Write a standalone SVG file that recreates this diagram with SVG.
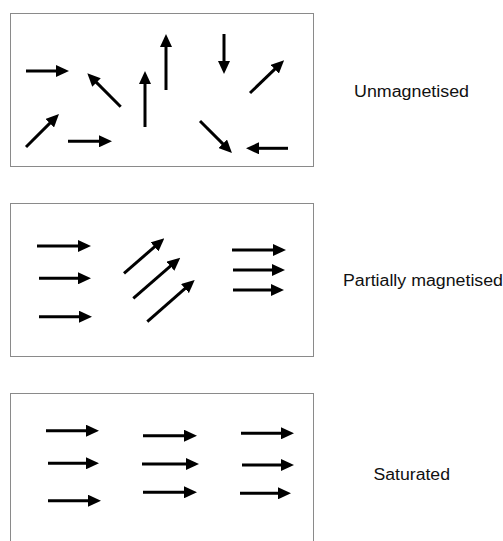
<svg xmlns="http://www.w3.org/2000/svg" width="503" height="541" viewBox="0 0 503 541">
<defs>
<marker id="ah" markerUnits="userSpaceOnUse" markerWidth="13" markerHeight="12" refX="3" refY="6" orient="auto">
<path d="M0,0 L13,6 L0,12 z" fill="#000"/>
</marker>
<style>
.panel{fill:#fff;stroke:#8a8a8a;stroke-width:1}
.a{stroke:#000;stroke-width:3;fill:none;marker-end:url(#ah)}
.lbl{font-family:"Liberation Sans",Arial,sans-serif;font-size:16px;fill:#111}
</style>
</defs>
<rect width="503" height="541" fill="#fff"/>
<g id="unmagnetised">
<rect class="panel" x="10.5" y="13.5" width="303" height="153"/>
<g id="arrows-unmagnetised">
<line class="a" x1="26" y1="71" x2="59" y2="71"/>
<line class="a" x1="120.7" y1="106.7" x2="94.4" y2="80.4"/>
<line class="a" x1="145" y1="127" x2="145" y2="81"/>
<line class="a" x1="166" y1="90" x2="166" y2="44"/>
<line class="a" x1="224" y1="34" x2="224" y2="64"/>
<line class="a" x1="250" y1="93" x2="276.9" y2="67.1"/>
<line class="a" x1="26" y1="147" x2="51.9" y2="121.1"/>
<line class="a" x1="68" y1="141.3" x2="102" y2="141.3"/>
<line class="a" x1="200" y1="121" x2="224.9" y2="145.9"/>
<line class="a" x1="288" y1="148.3" x2="256" y2="148.3"/>
</g>
<text class="lbl" x="354" y="96.5" textLength="115" lengthAdjust="spacingAndGlyphs">Unmagnetised</text>
</g>
<g id="partially-magnetised">
<rect class="panel" x="10.5" y="203.5" width="303" height="153"/>
<g id="arrows-partial">
<line class="a" x1="37" y1="246" x2="81" y2="246"/>
<line class="a" x1="39" y1="278.3" x2="81" y2="278.3"/>
<line class="a" x1="39" y1="316.7" x2="82" y2="316.7"/>
<line class="a" x1="124" y1="273.3" x2="156.8" y2="244.9"/>
<line class="a" x1="133.3" y1="298.3" x2="172.7" y2="264.2"/>
<line class="a" x1="147.3" y1="321.7" x2="187.2" y2="286.6"/>
<line class="a" x1="232" y1="250" x2="276" y2="250"/>
<line class="a" x1="233" y1="270" x2="275" y2="270"/>
<line class="a" x1="233" y1="290" x2="274" y2="290"/>
</g>
<text class="lbl" x="343" y="285.5" textLength="160" lengthAdjust="spacingAndGlyphs">Partially magnetised</text>
</g>
<g id="saturated">
<rect class="panel" x="10.5" y="393.5" width="303" height="170"/>
<g id="arrows-saturated">
<line class="a" x1="46" y1="430.7" x2="89" y2="430.7"/>
<line class="a" x1="48" y1="463.3" x2="89" y2="463.3"/>
<line class="a" x1="48" y1="500.7" x2="91" y2="500.7"/>
<line class="a" x1="143" y1="435.7" x2="187" y2="435.7"/>
<line class="a" x1="142" y1="464" x2="189" y2="464"/>
<line class="a" x1="143" y1="492.3" x2="187" y2="492.3"/>
<line class="a" x1="241" y1="433.3" x2="284" y2="433.3"/>
<line class="a" x1="242" y1="465" x2="284" y2="465"/>
<line class="a" x1="240" y1="493.3" x2="281" y2="493.3"/>
</g>
<text class="lbl" x="373.5" y="479.5" textLength="76.5" lengthAdjust="spacingAndGlyphs">Saturated</text>
</g>
</svg>
